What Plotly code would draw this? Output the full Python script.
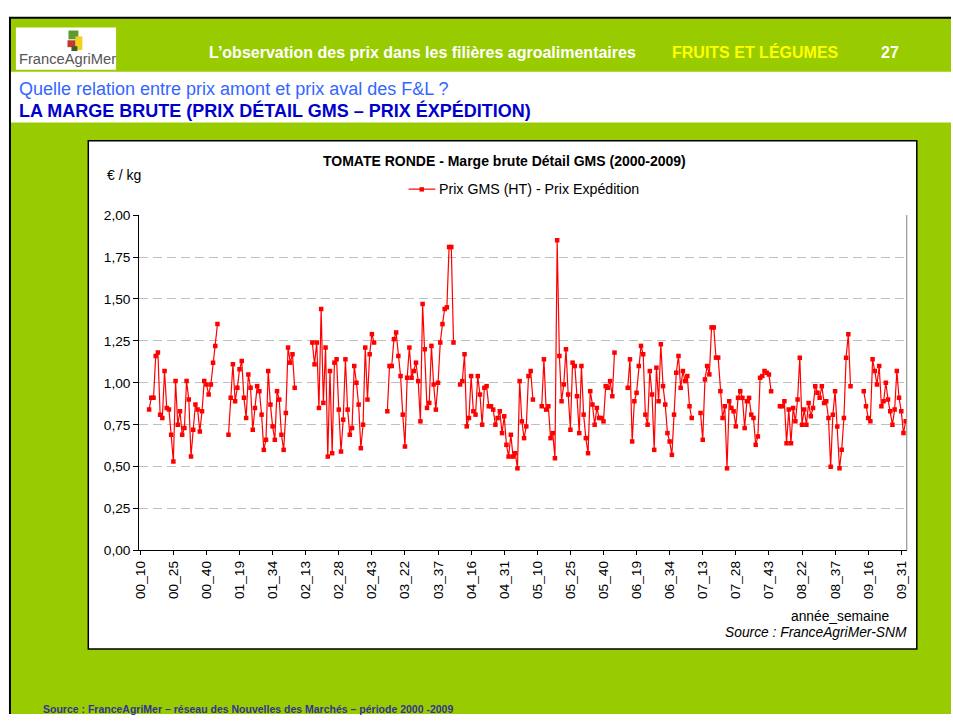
import plotly.graph_objects as go

W, H = 953, 722

# ---------------- data ----------------
years = ["00", "01", "02", "03", "04", "05", "06", "07", "08", "09"]
first_week = 10
last_week = 45
last_week_2009 = 33

v2000 = [None, None, None, None, 0.84, 0.91, 0.91, 1.16, 1.18, 0.81, 0.79, 1.07, 0.85, 0.84, 0.69, 0.53,
         1.01, 0.75, 0.83, 0.69, 0.73, 1.01, 0.90, 0.56, 0.72, 0.87, 0.84, 0.71, 0.83, 1.01, 0.99, 0.93,
         0.99, 1.12, 1.22, 1.35]
v2001 = [None, None, None, None, 0.69, 0.91, 1.11, 0.89, 0.97, 1.08, 1.13, 0.91, 0.79, 1.05, 0.97, 0.72,
         0.85, 0.98, 0.95, 0.81, 0.60, 0.66, 1.07, 0.87, 0.74, 0.66, 0.95, 0.90, 0.69, 0.60, 0.82, 1.21,
         1.12, 1.17, 0.97, None]
v2002 = [None, None, None, None, None, None, 1.24, 1.11, 1.24, 0.85, 1.44, 0.88, 1.21, 0.56, 1.07, 0.58,
         1.12, 1.14, 0.84, 0.59, 0.78, 1.14, 0.84, 0.69, 0.73, 1.10, 1.00, 0.87, 0.61, 0.75, 1.21, 0.90,
         1.17, 1.29, 1.24, None]
v2003 = [None, None, None, None, 0.83, 1.10, 1.10, 1.26, 1.30, 1.16, 1.04, 0.81, 0.62, 1.03, 1.21, 1.03,
         1.07, 1.12, 1.01, 0.77, 1.47, 1.20, 0.85, 0.88, 1.22, 0.99, 0.84, 1.00, 1.24, 1.35, 1.44, 1.45,
         1.81, 1.81, 1.24, None]
v2004 = [None, 0.99, 1.01, 1.17, 0.74, 0.79, 1.04, 0.83, 0.81, 1.04, 0.93, 0.75, 0.97, 0.98, 0.86, 0.86,
         0.84, 0.75, 0.79, 0.83, 0.70, 0.80, 0.63, 0.56, 0.69, 0.56, 0.58, 0.49, 1.01, 0.77, 0.67, 0.74,
         1.04, 1.07, 0.90, None]
v2005 = [None, None, 0.86, 1.14, 0.84, 0.86, 0.67, 0.70, 0.55, 1.85, 1.16, 0.89, 0.99, 1.20, 0.93, 0.72,
         1.12, 1.10, 0.92, 0.70, 1.10, 0.81, 0.67, 0.58, 0.95, 0.87, 0.75, 0.85, 0.79, 0.79, 0.77, 0.98,
         0.97, 1.01, 0.92, 1.18]
v2006 = [None, None, None, None, None, 0.97, 1.14, 0.65, 0.89, 0.94, 1.10, 1.22, 1.17, 0.81, 0.75, 1.07,
         0.93, 0.60, 1.09, 0.89, 1.23, 0.98, 0.87, 0.70, 0.65, 0.57, 0.81, 1.06, 1.16, 0.97, 1.07, 1.01,
         1.04, 0.86, 0.79, None]
v2007 = [None, None, 0.82, 0.66, 1.02, 1.10, 1.05, 1.33, 1.33, 1.15, 1.15, 0.95, 0.79, 0.86, 0.49, 0.89,
         0.85, 0.83, 0.74, 0.91, 0.95, 0.91, 0.73, 0.89, 0.91, 0.81, 0.79, 0.63, 0.68, 1.03, 1.04, 1.07,
         1.06, 1.05, 0.95, None]
v2008 = [None, None, 0.86, 0.86, 0.89, 0.64, 0.84, 0.64, 0.85, 0.77, 0.90, 1.15, 0.75, 0.84, 0.75, 0.88,
         0.80, 0.85, 0.98, 0.94, 0.91, 0.98, 0.88, 0.89, 0.79, 0.50, 0.81, 0.95, 0.74, 0.49, 0.60, 0.79,
         1.15, 1.29, 0.98, None]
v2009 = [None, None, None, None, 0.95, 0.86, 0.79, 0.77, 1.14, 1.07, 0.99, 1.10, 0.86, 0.89, 1.00, 0.90,
         0.83, 0.75, 0.84, 1.07, 0.91, 0.83, 0.70, 0.77]

tick_labels = ["00_10", "00_25", "00_40", "01_19", "01_34", "02_13", "02_28", "02_43", "03_22", "03_37",
               "04_16", "04_31", "05_10", "05_25", "05_40", "06_19", "06_34", "07_13", "07_28", "07_43",
               "08_22", "08_37", "09_16", "09_31"]

# ---------------- build ----------------
categories = []
for yy in years:
    end = last_week_2009 if yy == "09" else last_week
    for wk in range(first_week, end + 1):
        categories.append(f"{yy}_{wk:02d}")

values = v2000 + v2001 + v2002 + v2003 + v2004 + v2005 + v2006 + v2007 + v2008 + v2009
assert len(values) == len(categories), (len(values), len(categories))


def px(x):
    return x / W


def py(y):
    return 1 - y / H


FONT = "Liberation Sans, Arial, sans-serif"

fig = go.Figure()
fig.add_trace(go.Scatter(
    x=categories, y=values, mode="lines+markers",
    line=dict(color="#FF0000", width=1.2),
    marker=dict(symbol="square", size=4.5, color="#FF0000"),
    connectgaps=False, showlegend=False, hoverinfo="x+y",
))

shapes = []


def rect(x0, y0, x1, y1, fill, line_color=None, line_width=0, layer="below"):
    shapes.append(dict(type="rect", xref="paper", yref="paper",
                       x0=px(x0), x1=px(x1), y0=py(y1), y1=py(y0),
                       fillcolor=fill, layer=layer,
                       line=dict(color=line_color or fill, width=line_width)))


def line(x0, y0, x1, y1, color, width=1, layer="above"):
    shapes.append(dict(type="line", xref="paper", yref="paper",
                       x0=px(x0), x1=px(x1), y0=py(y0), y1=py(y1),
                       layer=layer, line=dict(color=color, width=width)))


GREEN = "#99CC00"
# slide background
rect(3, 10, W, H, "#000000")
rect(5, 12, W, H, GREEN)
rect(5, 66, W, 118, "#FFFFFF")
# logo
rect(10, 21, 111, 64, "#FFFFFF")
rect(63, 24, 73, 33, "#5E9B2E")
rect(70, 30, 77, 44, "#F2D21B")
rect(62, 34, 70, 41, "#C0392B")
rect(66, 40, 72, 45, "#3B5E2B")
# chart box
rect(83, 136.5, 918.5, 655.7, "#FFFFFF", "#000000", 1.5)
# plot area right border
line(908.4, 212.5, 908.4, 555, "#808080", 1)
# legend sample
line(406, 186, 433, 186, "#FF0000", 1.2)
rect(417, 184, 421.5, 188.5, "#FF0000", layer="above")

ann = []


def text(x, y, s, size, color="#000000", bold=False, italic=False, xanchor="left", family=FONT):
    if bold:
        s = f"<b>{s}</b>"
    if italic:
        s = f"<i>{s}</i>"
    ann.append(dict(x=px(x), y=py(y), xref="paper", yref="paper", text=s, showarrow=False,
                    xanchor=xanchor, yanchor="middle", align="left",
                    font=dict(family=family, size=size, color=color)))


# header
text(11, 53, "FranceAgriMer", 14.7, "#555555")
text(203, 46, "L’observation des prix dans les filières agroalimentaires", 16, "#FFFFFF", bold=True)
text(670, 46, "FRUITS ET LÉGUMES", 16, "#FFFF00", bold=True)
text(880, 46, "27", 16, "#FFFFFF", bold=True)
text(11, 84, "Quelle relation entre prix amont et prix aval des F&amp;L ?", 18, "#3366FF")
text(11, 105.5, "LA MARGE BRUTE (PRIX DÉTAIL GMS – PRIX ÉXPÉDITION)", 18, "#0000CC", bold=True)
# chart texts
text(503, 157.5, "TOMATE RONDE - Marge brute Détail GMS (2000-2009)", 14, bold=True, xanchor="center")
text(100, 172, "€ / kg", 14)
text(435, 186, "Prix GMS (HT) - Prix Expédition", 14.2)
text(893, 622, "année_semaine", 13.8, xanchor="right")
text(911, 639, "Source : FranceAgriMer-SNM", 13.8, italic=True, xanchor="right")
# footer
text(35, 717, "Source : FranceAgriMer – réseau des Nouvelles des Marchés – période 2000 -2009", 10.5,
     "#333399", bold=True)

fig.update_layout(
    width=W, height=H,
    margin=dict(l=0, r=0, t=0, b=0, pad=0),
    paper_bgcolor="#FFFFFF", plot_bgcolor="#FFFFFF",
    separators=", ",
    font=dict(family=FONT, size=13.7, color="#000000"),
    shapes=shapes, annotations=ann,
    showlegend=False,
    xaxis=dict(
        domain=[px(134.3), px(908.4)],
        type="category", categoryorder="array", categoryarray=categories,
        range=[-0.5, len(categories) - 0.5],
        tickmode="array", tickvals=tick_labels, ticktext=tick_labels,
        tickangle=-90, ticks="outside", ticklen=4, tickcolor="#000000",
        showline=True, linecolor="#000000", linewidth=1,
        showgrid=False, zeroline=False,
        tickfont=dict(family=FONT, size=13.7, color="#000000"),
        fixedrange=True,
    ),
    yaxis=dict(
        domain=[py(555), py(212.5)],
        range=[0, 2], tick0=0, dtick=0.25, tickformat=".2f",
        ticks="outside", ticklen=5, tickcolor="#000000",
        showline=True, linecolor="#000000", linewidth=1,
        showgrid=True, gridcolor="#BFBFBF", gridwidth=1, griddash="9px,5px",
        zeroline=False,
        tickfont=dict(family=FONT, size=13.7, color="#000000"),
        fixedrange=True,
    ),
)

fig.write_html(
    "out.html",
    config={"displayModeBar": False},
    post_script="document.body.style.margin='0';document.documentElement.style.overflow='hidden';document.body.style.overflow='hidden';",
)
